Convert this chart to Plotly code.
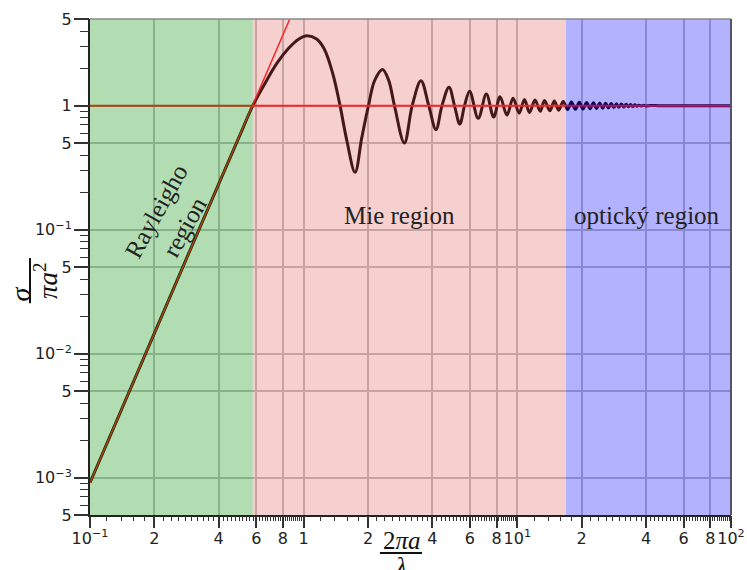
import numpy as np
import plotly.graph_objects as go

# Normalised cross-section sigma/(pi a^2) versus size parameter 2*pi*a/lambda
size_param = [
    0.10, 0.20, 0.30, 0.40, 0.50, 0.578, 0.65, 0.75, 0.85, 0.95, 1.035,
    1.15, 1.25, 1.37, 1.48, 1.59, 1.74, 1.87, 2.01, 2.15, 2.34, 2.50,
    2.66, 2.96, 3.22, 3.54, 3.85, 4.16, 4.44, 4.79, 5.08, 5.38, 5.66,
    5.98, 6.56, 7.16, 7.75, 8.30, 8.94, 9.55, 10.2, 10.8, 11.4, 12.1,
    12.8, 13.4, 14.2, 14.9, 15.6, 16.4, 17.2, 17.9, 18.7, 19.5, 20.3,
    21.1, 21.9, 22.7, 23.5, 24.3, 25.1, 25.9, 26.7, 27.5, 28.3, 29.1,
    29.9, 30.7, 31.5, 32.3, 33.1, 33.9, 34.7, 35.5, 36.3, 37.1, 38.0,
    39.0, 40.0, 42.0, 46.0, 55.0, 70.0, 100.0,
]
cross_section = [
    9.1e-4, 0.0146, 0.074, 0.233, 0.565, 1.0, 1.45, 2.2, 2.9, 3.45, 3.67,
    3.45, 2.85, 1.8, 1.0, 0.53, 0.29, 0.55, 1.0, 1.6, 1.96, 1.6,
    1.0, 0.50, 1.0, 1.59, 1.0, 0.64, 1.0, 1.41, 1.0, 0.71, 1.0,
    1.31, 0.79, 1.24, 0.81, 1.18, 0.84, 1.15, 0.87, 1.12, 0.88, 1.11,
    0.90, 1.10, 0.91, 1.09, 0.92, 1.08, 0.93, 1.07, 0.935, 1.065, 0.94,
    1.06, 0.945, 1.055, 0.95, 1.05, 0.955, 1.045, 0.96, 1.04, 0.965, 1.035,
    0.97, 1.03, 0.975, 1.025, 0.98, 1.02, 0.985, 1.015, 0.99, 1.01, 0.993,
    1.006, 0.996, 1.002, 1.0, 1.0, 1.0, 1.0,
]

# Reference lines: geometric limit and Rayleigh x^4 asymptote
geometric_x = [0.1, 100.0]
geometric_y = [1.0, 1.0]
rayleigh_x = [0.1, 0.86]
rayleigh_y = [9.1e-4, 4.98]

# Scattering regimes
region_names = ["Rayleigho<br>region", "Mie region", "optický region"]
region_edges = [0.1, 0.578, 16.9, 100.0]
region_colors = ["rgba(0,140,0,0.30)", "rgba(220,65,65,0.25)", "rgba(0,0,255,0.30)"]

# Axis ticks
x_tickvals = [0.1, 0.2, 0.4, 0.6, 0.8, 1, 2, 4, 6, 8, 10, 20, 40, 60, 80, 100]
x_ticktext = ["10<sup>−1</sup>", "2", "4", "6", "8", "1", "2", "4", "6", "8",
              "10<sup>1</sup>", "2", "4", "6", "8", "10<sup>2</sup>"]
y_tickvals = [5e-4, 1e-3, 5e-3, 1e-2, 5e-2, 1e-1, 0.5, 1, 5]
y_ticktext = ["5", "10<sup>−3</sup>", "5", "10<sup>−2</sup>", "5", "10<sup>−1</sup>",
              "5", "1", "5"]

x_minor = []
for dec in (0.1, 1.0, 10.0):
    for k in range(1, 45):
        v = round(dec * (1 + 0.2 * k), 6)
        if not any(abs(v - t) < 1e-9 for t in x_tickvals):
            x_minor.append(v)
y_minor = []
for dec in (1e-4, 1e-3, 1e-2, 1e-1, 1.0):
    for m in (2, 3, 4, 6, 7, 8, 9):
        v = dec * m
        if 5e-4 < v < 5:
            y_minor.append(v)

X_RANGE = [-1, 2]
Y_RANGE = [np.log10(5e-4), np.log10(5)]
TICK_FONT = dict(family="DejaVu Sans", size=16, color="#222")
SERIF = "Liberation Serif"

fig = go.Figure()
fig.add_trace(go.Scatter(
    x=size_param, y=cross_section, mode="lines",
    line=dict(color="rgb(20,12,12)", width=3, shape="spline", smoothing=1.0),
    hoverinfo="skip"))
fig.add_trace(go.Scatter(
    x=geometric_x, y=geometric_y, mode="lines",
    line=dict(color="rgb(255,30,30)", width=2), hoverinfo="skip"))
fig.add_trace(go.Scatter(
    x=rayleigh_x, y=rayleigh_y, mode="lines",
    line=dict(color="rgb(255,30,30)", width=1.5), hoverinfo="skip"))
# empty carriers for the overlaid tick-mark axes
for xa, ya in (("x2", "y2"), ("x3", "y3")):
    fig.add_trace(go.Scatter(x=[1], y=[1], xaxis=xa, yaxis=ya, mode="markers",
                             marker=dict(opacity=0), hoverinfo="skip"))

shapes = []
for i, col in enumerate(region_colors):
    shapes.append(dict(type="rect", xref="x", yref="paper",
                       x0=region_edges[i], x1=region_edges[i + 1], y0=0, y1=1,
                       fillcolor=col, line=dict(width=0), layer="above"))
# top and right frame
shapes.append(dict(type="line", xref="paper", yref="paper", x0=0, x1=1, y0=1, y1=1,
                   line=dict(color="#888", width=1.5), layer="above"))
shapes.append(dict(type="line", xref="paper", yref="paper", x0=1, x1=1, y0=0, y1=1,
                   line=dict(color="#556", width=2), layer="above"))
# fraction bars of the axis titles
shapes.append(dict(type="line", xref="paper", yref="paper", x0=-0.0936, x1=-0.0936,
                   y0=0.427, y1=0.518, line=dict(color="#111", width=2)))
shapes.append(dict(type="line", xref="paper", yref="paper", x0=0.4523, x1=0.5179,
                   y0=-0.0766, y1=-0.0766, line=dict(color="#111", width=2)))

annotations = [
    dict(text=region_names[0], x=0.126, y=0.597, textangle=-61,
         font=dict(family=SERIF, size=25, color="#222")),
    dict(text=region_names[1], x=0.4836, y=0.603,
         font=dict(family=SERIF, size=25, color="#222")),
    dict(text=region_names[2], x=0.8697, y=0.603,
         font=dict(family=SERIF, size=25, color="#222")),
    dict(text="<i>σ</i>", x=-0.109, y=0.445, textangle=-90,
         font=dict(family=SERIF, size=28, color="#111")),
    dict(text="<i>πa</i><sup>2</sup>", x=-0.0686, y=0.4718, textangle=-90,
         font=dict(family=SERIF, size=27, color="#111")),
    dict(text="2<i>πa</i>", x=0.4867, y=-0.0524,
         font=dict(family=SERIF, size=25, color="#111")),
    dict(text="<i>λ</i>", x=0.4851, y=-0.104,
         font=dict(family=SERIF, size=25, color="#111")),
]
for a in annotations:
    a.update(xref="paper", yref="paper", showarrow=False,
             xanchor="center", yanchor="middle")

grid = dict(showgrid=True, gridcolor="rgb(195,195,195)", gridwidth=1.5)
plain = dict(showgrid=False, zeroline=False, showline=False, showticklabels=False,
             automargin=False, ticks="outside", tickcolor="#333")

fig.update_layout(
    width=747, height=570,
    margin=dict(l=90, r=16, t=19, b=55),
    paper_bgcolor="white", plot_bgcolor="white",
    showlegend=False,
    shapes=shapes, annotations=annotations,
    xaxis=dict(
        type="log", range=X_RANGE, automargin=False,
        tickmode="array", tickvals=x_tickvals, ticktext=x_ticktext,
        tickangle=0, ticks="", ticklabelstandoff=8,
        tickfont=TICK_FONT, **grid,
        showline=True, linecolor="#222", linewidth=2, zeroline=False,
    ),
    yaxis=dict(
        type="log", range=Y_RANGE, automargin=False,
        tickmode="array", tickvals=y_tickvals, ticktext=y_ticktext,
        ticks="", ticklabelstandoff=13,
        tickfont=TICK_FONT, **grid,
        showline=True, linecolor="#222", linewidth=2, zeroline=False,
    ),
    # long tick marks at labelled values
    xaxis2=dict(type="log", range=X_RANGE, overlaying="x", anchor="y2", side="bottom",
                tickmode="array", tickvals=x_tickvals, ticklen=12, tickwidth=1.5,
                **plain),
    yaxis2=dict(type="log", range=Y_RANGE, overlaying="y", anchor="x2", side="left",
                tickmode="array", tickvals=y_tickvals, ticklen=15, tickwidth=1.5,
                **plain),
    # short minor tick marks
    xaxis3=dict(type="log", range=X_RANGE, overlaying="x", anchor="y3", side="bottom",
                tickmode="array", tickvals=x_minor, ticklen=5, tickwidth=1.2,
                **plain),
    yaxis3=dict(type="log", range=Y_RANGE, overlaying="y", anchor="x3", side="left",
                tickmode="array", tickvals=y_minor, ticklen=9, tickwidth=1.2,
                **plain),
)

fig.write_html("out.html")
